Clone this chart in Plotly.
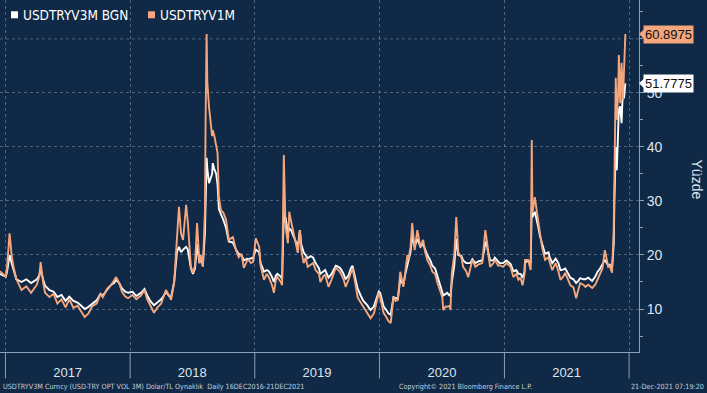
import plotly.graph_objects as go

dates = [
"2016-12-16","2017-01-02","2017-01-06","2017-01-13","2017-01-19","2017-01-24","2017-02-02","2017-02-17","2017-03-03","2017-03-17",
"2017-04-03","2017-04-10","2017-04-14","2017-04-21","2017-04-27","2017-05-10","2017-05-22","2017-06-02","2017-06-14","2017-06-26",
"2017-07-07","2017-07-19","2017-07-31","2017-08-11","2017-08-21","2017-09-01","2017-09-12","2017-09-25","2017-10-06","2017-10-13",
"2017-10-26","2017-11-07","2017-11-15","2017-11-21","2017-11-30","2017-12-08","2017-12-18","2017-12-26",
"2018-01-08","2018-01-19","2018-02-02","2018-02-12","2018-02-20","2018-03-02","2018-03-12","2018-03-21","2018-04-02","2018-04-10",
"2018-04-16","2018-04-25","2018-05-01","2018-05-10","2018-05-15","2018-05-18","2018-05-24","2018-05-30","2018-06-05","2018-06-14",
"2018-06-19","2018-06-28","2018-07-04","2018-07-10","2018-07-16","2018-07-23","2018-07-27","2018-08-02","2018-08-08","2018-08-10",
"2018-08-13","2018-08-15","2018-08-20","2018-08-29","2018-08-31","2018-09-04","2018-09-10","2018-09-14","2018-09-18","2018-09-24",
"2018-10-01","2018-10-09","2018-10-17","2018-10-29","2018-11-07","2018-11-15","2018-11-23","2018-11-30","2018-12-10","2018-12-14",
"2018-12-21","2018-12-27",
"2019-01-04","2019-01-14","2019-01-18","2019-01-28","2019-02-05","2019-02-11","2019-02-20","2019-02-26","2019-03-04","2019-03-08",
"2019-03-18","2019-03-22","2019-03-27","2019-03-29","2019-04-01","2019-04-08","2019-04-12","2019-04-18","2019-04-24","2019-05-01",
"2019-05-07","2019-05-13","2019-05-17","2019-05-24","2019-05-30","2019-06-05","2019-06-14","2019-06-21","2019-06-28","2019-07-08",
"2019-07-12","2019-07-22","2019-07-26","2019-08-05","2019-08-14","2019-08-26","2019-09-03","2019-09-09","2019-09-18","2019-09-24",
"2019-10-03","2019-10-09","2019-10-14","2019-10-23","2019-10-29","2019-11-07","2019-11-15","2019-11-25","2019-12-02","2019-12-06",
"2019-12-16","2019-12-20","2019-12-30",
"2020-01-03","2020-01-13","2020-01-21","2020-01-27","2020-02-03","2020-02-07","2020-02-11","2020-02-17","2020-02-24","2020-03-02",
"2020-03-11","2020-03-17","2020-03-23","2020-03-26","2020-04-01","2020-04-06","2020-04-13","2020-04-21","2020-04-30","2020-05-08",
"2020-05-14","2020-05-20","2020-05-29","2020-06-04","2020-06-12","2020-06-18","2020-06-26","2020-07-03","2020-07-06","2020-07-13",
"2020-07-17","2020-07-24","2020-07-27","2020-07-31","2020-08-07","2020-08-13","2020-08-19","2020-08-28","2020-09-02","2020-09-11",
"2020-09-17","2020-09-23","2020-09-29","2020-10-08","2020-10-16","2020-10-28","2020-11-03","2020-11-06","2020-11-12","2020-11-13",
"2020-11-20","2020-11-30","2020-12-04","2020-12-14","2020-12-18","2020-12-28",
"2021-01-07","2021-01-19","2021-01-27","2021-02-05","2021-02-11","2021-02-17","2021-02-23","2021-03-01","2021-03-02","2021-03-11",
"2021-03-19","2021-03-22","2021-03-24","2021-03-31","2021-04-06","2021-04-09","2021-04-15","2021-04-21","2021-04-30","2021-05-10",
"2021-05-14","2021-05-21","2021-05-31","2021-06-08","2021-06-14","2021-06-22","2021-06-28","2021-07-07","2021-07-13","2021-07-22",
"2021-07-30","2021-08-05","2021-08-11","2021-08-20","2021-08-26","2021-09-03","2021-09-15","2021-09-24","2021-09-30","2021-10-08",
"2021-10-15","2021-10-22","2021-11-01","2021-11-05","2021-11-12","2021-11-17","2021-11-19","2021-11-23","2021-11-26","2021-11-30",
"2021-12-02","2021-12-06","2021-12-08","2021-12-10","2021-12-14","2021-12-17","2021-12-21",
]

usdtryv1m = [
17,16,18,24,20,18,15.5,13.5,14.2,13,
14.5,16,18.7,15,13,12.2,12.8,11,11.8,10.3,
11.8,10.2,10.6,9.5,8.5,9.2,10.5,11,12.8,12.2,
13.8,14.5,15.2,15.9,14.8,13.2,12.3,12,
12.6,11.8,12.5,13.5,11.8,10.4,9.3,10.2,11,12.5,
13.5,12.5,11.7,15,19.6,22,28.9,24,22.8,29.3,
26,17.8,16.7,18,25.9,18.5,20,17.8,28,45,
60.9,52,47.4,42,43.1,42.2,40,38.9,30.7,28.3,
27.8,26.5,22.8,23.3,20.9,19.6,20.2,17.6,19,19.1,
18.5,18.7,
23.1,21.5,18,15.4,16.5,15.9,14.5,13,15.5,15.9,
15,14.4,38.5,30,25.2,22.2,28,26,24.1,22,
20.4,24.6,21,18.5,19.5,17.8,18.2,18.5,17.2,16.5,
15,16.2,16.3,14.1,15.5,17.6,17.2,16.7,15.5,14.1,
15.5,16.7,17.6,14.5,12.2,11.2,10.4,9.5,8.8,8.3,
9.2,10.4,13,
12.2,9.3,8.5,7.8,7.4,9.5,12.2,11.5,11.7,16.9,
14.1,17,20,19.1,21.5,25.9,20.9,24.6,21.5,22.8,
20.5,19.1,18,16.9,16.5,15,13.5,12.2,9.8,10.5,
10.4,10.6,9.8,16.7,20,27,20.4,19.5,17.8,17,
15.9,17.5,19.1,17.8,18.2,18.5,22,24.6,22,20.9,
17.8,18.5,19.1,18,18.1,17.8,
18.5,17.8,15.9,16.5,15.4,15.8,14.4,16.5,19.1,19.1,
17.2,41.3,27.8,30.7,28,26.5,23.5,21.5,19.1,19.6,
18.5,17.2,18.5,17,15.4,16,16.7,15.5,14.4,14,
12,13.5,14.8,14.5,14.1,14.5,13.9,14.5,15.4,16.7,
17.5,20.9,17.8,18,16.7,25,38.9,52.8,45,50,
57,48.1,52,55.6,48.7,55,60.8975,
]

usdtryv3m_bgn = [
16.5,16,17,20,18.5,17.5,15.5,15,15.5,14.8,
15.5,16.2,17.5,15.5,14.3,13.5,13.2,12.2,12.6,11.5,
12.3,11.5,11.2,10.6,10,10.4,11,11.6,12.8,12.5,
13.6,14.5,14.8,15.4,14.8,13.8,13.2,13,
13.2,12.4,13,13.7,12.5,11.4,10.7,11.2,11.8,12.5,
13.2,12.4,12.2,15,18.5,20.5,21.5,20.5,21,21.5,
21,17.5,16.5,17.5,22,18.5,19.5,18,24,33,
38,36,33.3,35,37,36,35,33,28.5,27.5,
26.5,25,22.5,22.3,21,20.2,20,19,19.3,19.2,
19.4,19.4,
21,20.5,18.5,16.9,17.2,17,16,15,16.2,16.5,
16,15.5,28,26,27,24,25,24.5,23.5,22.5,
21.5,24.6,22,20.5,20,19.4,19.8,19.5,18.5,17.5,
16.5,17,17.2,15.8,16.5,18,17.8,17.5,16.5,15.5,
16.3,17.5,18,15.5,13.8,12.5,11.5,10.8,10.2,9.8,
10.5,11.3,13.2,
13,10.5,9.8,9.2,8.9,10.5,12.2,12,12,15.5,
14.5,16.5,18.5,19,20.5,23.5,21.5,23,21.5,22,
21,20,19,18,17.5,16.3,14.8,13.5,12.5,12.8,
13,12.5,12.5,15,18,23,20,19.8,19,18.5,
18.5,18.5,19.2,18.5,18.8,19,21,22.5,21.5,21,
19,19,19.5,18.8,18.5,18.5,
19,18.3,17,17.2,16.5,16.5,15.8,17,18.5,19,
18.5,29,27,28,26.5,25.5,23.5,22,20.2,20.5,
19.5,18.5,19.3,18.5,17.2,17.3,17.5,16.5,15.8,15.5,
14.8,15.2,15.7,15.5,15.5,15.8,15.2,16,16.8,17.5,
18.2,19.1,18,18.2,17.5,22,30,40,35.7,42,
46.9,47.5,46,44.4,51.1,49,51.7775,
]

series_names = ["USDTRYV3M BGN", "USDTRYV1M"]
series_colors = ["#ffffff", "#f5a67c"]
year_bounds = ["2017-01-01", "2018-01-01", "2019-01-01", "2020-01-01", "2021-01-01", "2022-01-01"]
year_mids = ["2017-07-02", "2018-07-02", "2019-07-02", "2020-07-02", "2021-07-02"]
year_labels = ["2017", "2018", "2019", "2020", "2021"]
y_ticks = [10, 20, 30, 40, 50]

BG = "#0f2946"
GRID = "rgba(140,160,185,0.5)"
AXIS = "#8ea0b6"
TXT = "#dfe5ee"
NARROW = "DejaVu Sans Condensed, Liberation Sans Narrow, Roboto Condensed, Noto Sans"

fig = go.Figure()
for name, vals, col in [(series_names[0], usdtryv3m_bgn, series_colors[0]),
                        (series_names[1], usdtryv1m, series_colors[1])]:
    fig.add_trace(go.Scatter(x=dates, y=vals, mode="lines", name=name,
                             line=dict(color=col, width=1.9), showlegend=False,
                             hoverinfo="skip"))

# legend drawn as squares + texts
leg_x = [0.0172, 0.2316]
for name, col, lx in zip(series_names, series_colors, leg_x):
    fig.add_shape(type="rect", xref="paper", yref="paper",
                  x0=lx, x1=lx + 0.011, y0=0.948, y1=0.968,
                  fillcolor=col, line=dict(width=0))
    fig.add_annotation(x=lx + 0.0155, xref="paper", y=0.958, yref="paper",
                       xanchor="left", yanchor="middle", showarrow=False,
                       text=name, font=dict(family=NARROW, size=13.5, color="#ffffff"))

# last value tags
for vals, col in [(usdtryv1m, series_colors[1]), (usdtryv3m_bgn, series_colors[0])]:
    last = vals[-1]
    fig.add_annotation(x=1, xref="paper", y=last, yref="y", xanchor="left", yanchor="middle",
                       xshift=4, text=f"{last:.4f}", showarrow=False,
                       font=dict(family="Liberation Sans", size=13, color="#101010"),
                       bgcolor=col, borderpad=1)
    fig.add_shape(type="path", xref="paper", yref="y",
                  path=f"M 1.0,{last} L 1.008,{last+0.9} L 1.008,{last-0.9} Z",
                  fillcolor=col, line=dict(width=0))

# year separators under the axis
for d in year_bounds:
    fig.add_shape(type="line", xref="x", yref="paper", x0=d, x1=d, y0=0, y1=-0.075,
                  line=dict(color=AXIS, width=1))

fig.add_annotation(x=1, xref="paper", y=0.49, yref="paper", xanchor="center", yanchor="middle",
                   xshift=58, text="Yüzde", textangle=90, showarrow=False,
                   font=dict(family="Liberation Sans", size=14, color=TXT))

foot = dict(family=NARROW, size=7.2, color="#c9d1dc")
fig.add_annotation(x=0, xref="paper", y=0, yref="paper", xanchor="left", yanchor="middle",
                   yshift=-34.5, xshift=1, showarrow=False, font=foot,
                   text="USDTRYV3M Curncy (USD-TRY OPT VOL 3M) Dolar/TL Oynaklık  Daily 16DEC2016-21DEC2021")
fig.add_annotation(x=0.728, xref="paper", y=0, yref="paper", xanchor="center", yanchor="middle",
                   yshift=-34.5, showarrow=False, font=foot,
                   text="Copyright© 2021 Bloomberg Finance L.P.")
fig.add_annotation(x=1, xref="paper", y=0, yref="paper", xanchor="right", yanchor="middle",
                   yshift=-34.5, xshift=67, showarrow=False, font=foot,
                   text="21-Dec-2021 07:19:20")

fig.update_layout(
    width=707, height=393,
    margin=dict(l=0, r=68, t=0, b=41, autoexpand=False),
    paper_bgcolor=BG, plot_bgcolor=BG,
    font=dict(family="Liberation Sans", color=TXT),
    showlegend=False,
    xaxis=dict(type="date", range=["2016-12-16", "2022-01-30"],
               tickmode="array", tickvals=year_mids, ticktext=year_labels,
               ticks="", showgrid=False, showline=True, linecolor=AXIS, linewidth=1,
               minor=dict(tickmode="array", tickvals=year_bounds, showgrid=True,
                          gridcolor=GRID, griddash="dot", gridwidth=1, ticks=""),
               tickfont=dict(size=13, color=TXT), ticklabelstandoff=8,
               zeroline=False),
    yaxis=dict(side="right", range=[2.04, 67.2], tickmode="array", tickvals=y_ticks,
               showgrid=True, gridcolor=GRID, griddash="dot", gridwidth=1,
               showline=True, linecolor=AXIS, linewidth=1,
               ticks="outside", ticklen=4, tickcolor=AXIS,
               minor=dict(tickmode="linear", dtick=5, tick0=0, ticks="outside", ticklen=3,
                          tickcolor=AXIS, showgrid=False),
               tickfont=dict(size=14, color=TXT), zeroline=False),
)
fig.add_shape(type="line", xref="paper", yref="y", x0=0, x1=1, y0=60, y1=60,
              line=dict(color=GRID, width=1, dash="dot"), layer="below")

fig.write_html("out.html", config={"displayModeBar": False},
               post_script="document.body.style.margin='0px';document.body.style.overflow='hidden';")
